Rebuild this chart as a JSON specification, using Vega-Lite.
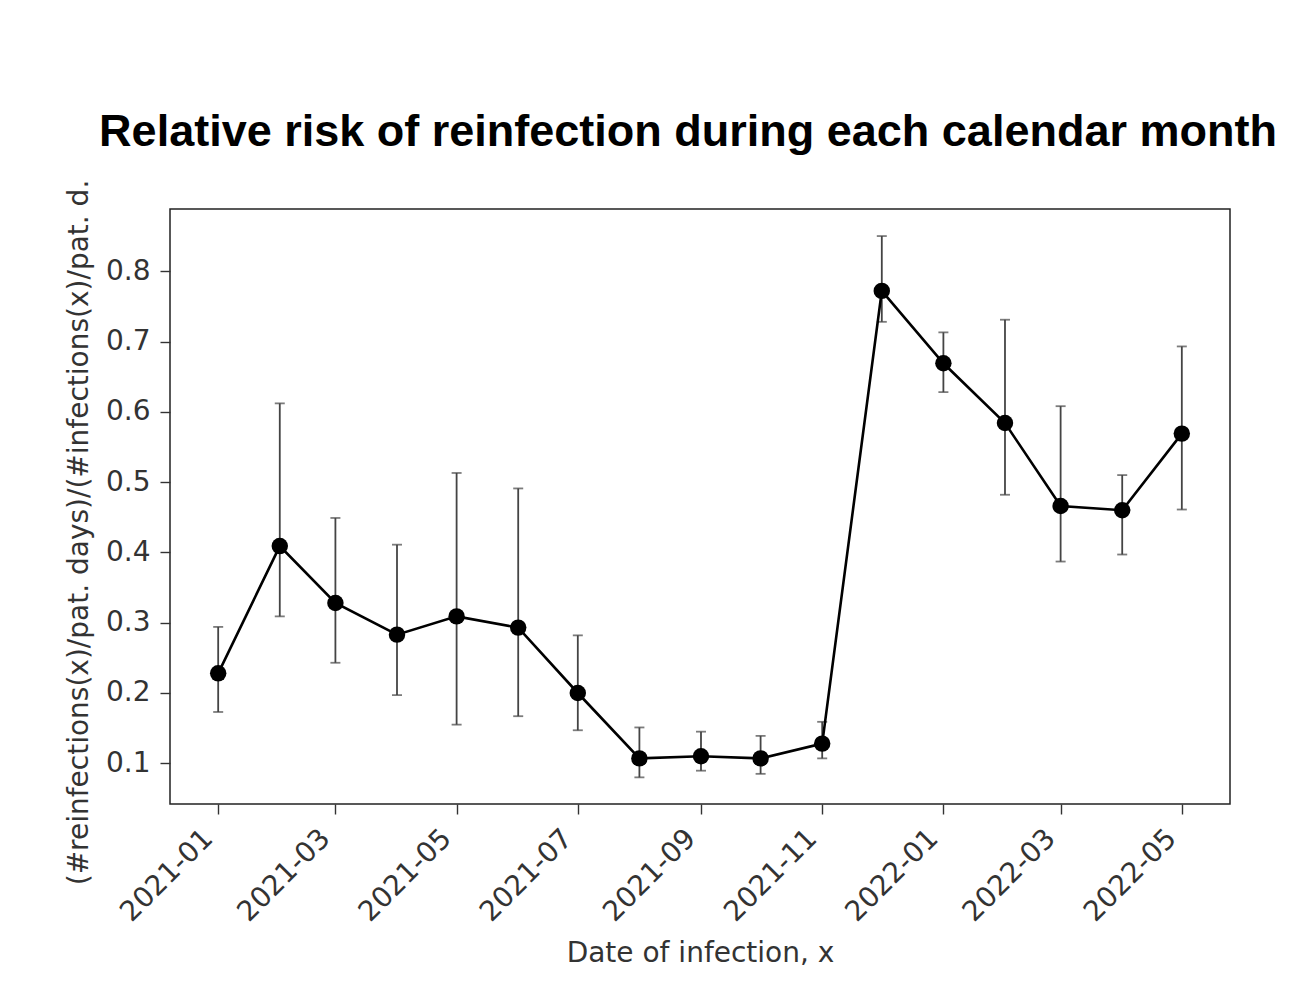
{
  "$schema": "https://vega.github.io/schema/vega-lite/v6.json",
  "autosize": {"type": "none"},
  "padding": {"left": 170, "top": 209, "right": 71, "bottom": 188},
  "width": 1060,
  "height": 595,
  "background": "white",
  "title": {
    "text": "Relative risk of reinfection during each calendar month",
    "font": "Liberation Sans",
    "fontSize": 45,
    "fontWeight": "bold",
    "color": "black",
    "anchor": "middle",
    "baseline": "alphabetic",
    "offset": -12,
    "dx": -12
  },
  "data": {
    "values": [
      {"month": "2021-01-01", "rr": 0.228, "lo": 0.173, "hi": 0.294},
      {"month": "2021-02-01", "rr": 0.409, "lo": 0.309, "hi": 0.612},
      {"month": "2021-03-01", "rr": 0.328, "lo": 0.243, "hi": 0.449},
      {"month": "2021-04-01", "rr": 0.283, "lo": 0.197, "hi": 0.411},
      {"month": "2021-05-01", "rr": 0.309, "lo": 0.155, "hi": 0.513},
      {"month": "2021-06-01", "rr": 0.293, "lo": 0.167, "hi": 0.491},
      {"month": "2021-07-01", "rr": 0.2, "lo": 0.147, "hi": 0.282},
      {"month": "2021-08-01", "rr": 0.107, "lo": 0.08, "hi": 0.151},
      {"month": "2021-09-01", "rr": 0.11, "lo": 0.0895, "hi": 0.145},
      {"month": "2021-10-01", "rr": 0.107, "lo": 0.085, "hi": 0.139},
      {"month": "2021-11-01", "rr": 0.128, "lo": 0.107, "hi": 0.159},
      {"month": "2021-12-01", "rr": 0.772, "lo": 0.728, "hi": 0.85},
      {"month": "2022-01-01", "rr": 0.669, "lo": 0.628, "hi": 0.713},
      {"month": "2022-02-01", "rr": 0.584, "lo": 0.482, "hi": 0.731},
      {"month": "2022-03-01", "rr": 0.466, "lo": 0.387, "hi": 0.608},
      {"month": "2022-04-01", "rr": 0.46, "lo": 0.397, "hi": 0.51},
      {"month": "2022-05-01", "rr": 0.569, "lo": 0.461, "hi": 0.693}
    ]
  },
  "encoding": {
    "x": {
      "field": "month",
      "type": "temporal",
      "scale": {
        "type": "utc",
        "domain": [
          {"year": 2020, "month": 12, "date": 7, "hours": 18, "utc": true},
          {"year": 2022, "month": 5, "date": 25, "hours": 6, "utc": true}
        ]
      },
      "axis": {
        "title": "Date of infection, x",
        "format": "%Y-%m",
        "tickCount": {"interval": "month", "step": 2},
        "labelAngle": -45,
        "labelAlign": "right",
        "labelBaseline": "middle",
        "labelPadding": 20,
        "labelOffset": -10,
        "titlePadding": 13
      }
    }
  },
  "layer": [
    {
      "mark": {"type": "rule", "color": "#444", "strokeWidth": 1.8},
      "encoding": {
        "y": {"field": "lo", "type": "quantitative"},
        "y2": {"field": "hi"}
      }
    },
    {
      "mark": {"type": "tick", "orient": "horizontal", "color": "#444", "size": 10, "thickness": 1.8},
      "encoding": {"y": {"field": "lo", "type": "quantitative"}}
    },
    {
      "mark": {"type": "tick", "orient": "horizontal", "color": "#444", "size": 10, "thickness": 1.8},
      "encoding": {"y": {"field": "hi", "type": "quantitative"}}
    },
    {
      "mark": {"type": "line", "color": "black", "strokeWidth": 2.6},
      "encoding": {"y": {"field": "rr", "type": "quantitative"}}
    },
    {
      "mark": {"type": "point", "shape": "circle", "filled": true, "color": "black", "size": 270, "opacity": 1},
      "encoding": {
        "y": {
          "field": "rr",
          "type": "quantitative",
          "scale": {"domain": [0.0421, 0.8885], "zero": false, "nice": false},
          "axis": {
            "title": "(#reinfections(x)/pat. days)/(#infections(x)/pat. d.",
            "values": [0.1, 0.2, 0.3, 0.4, 0.5, 0.6, 0.7, 0.8],
            "format": ".1f",
            "labelPadding": 10,
            "titlePadding": 12,
            "titleY": 323
          }
        }
      }
    }
  ],
  "resolve": {"scale": {"y": "shared"}},
  "config": {
    "view": {"stroke": "#222", "strokeWidth": 1.5},
    "axis": {
      "grid": false,
      "domain": false,
      "labelFont": "DejaVu Sans",
      "labelFontSize": 28,
      "labelColor": "#333",
      "titleFont": "DejaVu Sans",
      "titleFontSize": 28,
      "titleFontWeight": "normal",
      "titleColor": "#333",
      "tickColor": "#333",
      "tickSize": 10,
      "tickWidth": 1.4
    }
  }
}
